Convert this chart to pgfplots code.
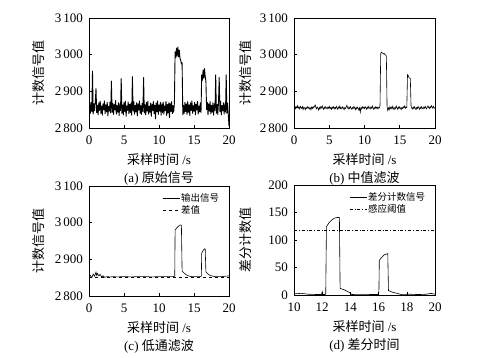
\documentclass[border=0pt]{standalone}
\usepackage{fontspec}
\setmainfont{Liberation Serif}
\newfontfamily\cjk{Noto Sans CJK SC}
\usepackage{pgfplots}
\pgfplotsset{compat=1.18}
\pgfplotsset{
  myax/.style={
    scale only axis,
    width=140pt, height=110pt,
    axis line style={line width=0.8pt},
    tick align=inside, tick pos=left,
    major tick length=3pt,
    tick style={line width=0.6pt, black},
    tick label style={font=\fontsize{13}{15}\selectfont},
    /pgf/number format/assume math mode=true,
    /pgf/number format/1000 sep={\,},
    xticklabel style={yshift=-4pt},
    yticklabel style={xshift=-2.5pt},
    label style={font=\fontsize{13}{15}\selectfont},
    clip mode=individual,
    no markers,
    xlabel={{\cjk 采样时间} /s},
    xlabel style={at={(axis description cs:0.5,-0.29)}, anchor=center},
    ylabel style={at={(axis description cs:-0.357,0.5)}, anchor=center},
    legend style={draw=none, fill=none, at={(axis description cs:0.96,0.96)}, anchor=north east,
      font=\fontsize{9.5}{11}\selectfont, nodes={inner sep=1pt}},
    legend cell align=left,
  },
  sigax/.style={
    xmin=0, xmax=20, ymin=2800, ymax=3100,
    xtick={0,5,10,15,20}, ytick={2800,2900,3000,3100},
    ylabel={\cjk 计数信号值},
  },
  ln/.style={black, line width=0.6pt, mark=none}
}
\begin{document}
\begin{tikzpicture}
\useasboundingbox (0,0) rectangle (478pt,-357pt);
% (a)
\begin{axis}[myax, sigax, at={(89pt,-128pt)}, anchor=south west]
\addplot[ln, line width=0.9pt, line join=round] coordinates {
(0.0,2852)(0.1,2868)(0.2,2840)(0.3,2870)(0.4,2845)(0.5,2955)(0.6,2838)(0.7,2866)(0.8,2847)(0.9,2872)
(1.0,2908)(1.1,2842)(1.2,2862)(1.3,2836)(1.4,2869)(1.5,2848)(1.6,2873)(1.7,2840)(1.8,2860)(1.9,2835)
(2.0,2866)(2.1,2850)(2.2,2874)(2.3,2839)(2.4,2863)(2.5,2844)(2.6,2870)(2.7,2833)(2.8,2859)(2.9,2846)
(3.0,2871)(3.1,2841)(3.2,2928)(3.3,2843)(3.4,2867)(3.5,2837)(3.6,2864)(3.7,2849)(3.8,2875)(3.9,2838)
(4.0,2861)(4.1,2843)(4.2,2869)(4.3,2834)(4.4,2866)(4.5,2847)(4.6,2935)(4.7,2840)(4.8,2863)(4.9,2836)
(5.0,2870)(5.1,2845)(5.2,2873)(5.3,2832)(5.4,2860)(5.5,2848)(5.6,2871)(5.7,2839)(5.8,2865)(5.9,2842)
(6.0,2868)(6.1,2835)(6.2,2940)(6.3,2846)(6.4,2872)(6.5,2838)(6.6,2862)(6.7,2844)(6.8,2869)(6.9,2833)
(7.0,2866)(7.1,2849)(7.2,2874)(7.3,2840)(7.4,2861)(7.5,2837)(7.6,2867)(7.7,2845)(7.8,2938)(7.9,2841)
(8.0,2864)(8.1,2836)(8.2,2870)(8.3,2846)(8.4,2873)(8.5,2838)(8.6,2859)(8.7,2843)(8.8,2868)(8.9,2832)
(9.0,2865)(9.1,2848)(9.2,2872)(9.3,2839)(9.4,2862)(9.5,2825)(9.6,2869)(9.7,2844)(9.8,2874)(9.9,2837)
(10.0,2863)(10.1,2846)(10.2,2870)(10.3,2835)(10.4,2866)(10.5,2842)(10.6,2871)(10.7,2838)(10.8,2860)(10.9,2847)
(11.0,2873)(11.1,2834)(11.2,2864)(11.3,2841)(11.4,2869)(11.5,2828)(11.6,2867)(11.7,2845)(11.8,2872)(11.9,2839)
(12.0,2861)(12.1,2843)(12.2,2868)(12.3,3008)(12.4,2992)(12.5,3018)(12.6,2996)(12.7,3021)(12.8,2994)(12.9,3012)
(13.0,2990)(13.1,2985)(13.2,2975)(13.3,2978)(13.4,2836)(13.5,2862)(13.6,2840)(13.7,2870)(13.8,2845)(13.9,2866)
(14.0,2837)(14.1,2872)(14.2,2843)(14.3,2863)(14.4,2834)(14.5,2869)(14.6,2848)(14.7,2874)(14.8,2840)(14.9,2861)
(15.0,2845)(15.1,2870)(15.2,2836)(15.3,2865)(15.4,2849)(15.5,2873)(15.6,2838)(15.7,2860)(15.8,2844)(15.9,2868)
(16.0,2842)(16.1,2945)(16.2,2930)(16.3,2958)(16.4,2936)(16.5,2962)(16.6,2940)(16.7,2928)(16.8,2850)(16.9,2870)
(17.0,2836)(17.1,2866)(17.2,2846)(17.3,2872)(17.4,2839)(17.5,2862)(17.6,2843)(17.7,2869)(17.8,2835)(17.9,2866)
(18.0,2848)(18.1,2945)(18.2,2840)(18.3,2864)(18.4,2837)(18.5,2870)(18.6,2938)(18.7,2845)(18.8,2873)(18.9,2836)
(19.0,2861)(19.1,2847)(19.2,2869)(19.3,2838)(19.4,2866)(19.5,2843)(19.6,2945)(19.7,2840)(19.8,2868)(19.9,2836)
(20.0,2805)};
\node[font=\fontsize{13}{15}\selectfont] at (axis description cs:0.5,-0.455) {(a) {\cjk 原始信号}};
\end{axis}
% (b)
\begin{axis}[myax, sigax, width=141pt, at={(294pt,-128pt)}, anchor=south west,
  ylabel style={at={(axis description cs:-0.34,0.5)}}]
\addplot[ln] coordinates {
(0.0,2856)(0.1,2860)(0.2,2853)(0.3,2858)(0.4,2855)(0.5,2861)(0.6,2854)(0.7,2857)(0.8,2852)(0.9,2859)
(1.0,2856)(1.1,2853)(1.2,2858)(1.3,2851)(1.4,2857)(1.5,2855)(1.6,2850)(1.7,2856)(1.8,2853)(1.9,2858)
(2.0,2854)(2.1,2857)(2.2,2852)(2.3,2855)(2.4,2850)(2.5,2857)(2.6,2853)(2.7,2858)(2.8,2855)(2.9,2859)
(3.0,2863)(3.1,2856)(3.2,2852)(3.3,2857)(3.4,2854)(3.5,2849)(3.6,2856)(3.7,2852)(3.8,2858)(3.9,2855)
(4.0,2860)(4.1,2854)(4.2,2851)(4.3,2857)(4.4,2853)(4.5,2858)(4.6,2855)(4.7,2852)(4.8,2857)(4.9,2854)
(5.0,2859)(5.1,2853)(5.2,2856)(5.3,2851)(5.4,2857)(5.5,2854)(5.6,2858)(5.7,2852)(5.8,2856)(5.9,2853)
(6.0,2859)(6.1,2855)(6.2,2851)(6.3,2857)(6.4,2854)(6.5,2860)(6.6,2853)(6.7,2856)(6.8,2852)(6.9,2858)
(7.0,2855)(7.1,2850)(7.2,2856)(7.3,2853)(7.4,2857)(7.5,2862)(7.6,2855)(7.7,2852)(7.8,2857)(7.9,2853)
(8.0,2858)(8.1,2854)(8.2,2851)(8.3,2856)(8.4,2853)(8.5,2859)(8.6,2855)(8.7,2850)(8.8,2856)(8.9,2852)
(9.0,2857)(9.1,2854)(9.2,2849)(9.3,2855)(9.4,2843)(9.5,2856)(9.6,2852)(9.7,2858)(9.8,2854)(9.9,2857)
(10.0,2853)(10.1,2858)(10.2,2855)(10.3,2851)(10.4,2857)(10.5,2853)(10.6,2859)(10.7,2855)(10.8,2852)(10.9,2857)
(11.0,2854)(11.1,2860)(11.2,2855)(11.3,2851)(11.4,2856)(11.5,2853)(11.6,2858)(11.7,2854)(11.8,2857)(11.9,2852)
(12.0,2856)(12.1,2855)(12.2,2860)(12.3,3003)(12.4,3007)(12.5,3005)(12.6,3004)(12.7,3002)(12.8,3003)(12.9,3000)
(13.0,2999)(13.1,2996)(13.2,2858)(13.3,2848)(13.4,2855)(13.5,2850)(13.6,2858)(13.7,2853)(13.8,2857)(13.9,2852)
(14.0,2859)(14.1,2854)(14.2,2850)(14.3,2856)(14.4,2853)(14.5,2860)(14.6,2855)(14.7,2851)(14.8,2857)(14.9,2853)
(15.0,2858)(15.1,2854)(15.2,2850)(15.3,2856)(15.4,2853)(15.5,2858)(15.6,2855)(15.7,2860)(15.8,2854)(15.9,2857)
(16.0,2856)(16.1,2945)(16.2,2943)(16.3,2938)(16.4,2936)(16.5,2935)(16.6,2860)(16.7,2855)(16.8,2852)(16.9,2857)
(17.0,2853)(17.1,2858)(17.2,2854)(17.3,2850)(17.4,2856)(17.5,2853)(17.6,2859)(17.7,2855)(17.8,2851)(17.9,2857)
(18.0,2853)(18.1,2858)(18.2,2854)(18.3,2852)(18.4,2857)(18.5,2854)(18.6,2859)(18.7,2855)(18.8,2852)(18.9,2857)
(19.0,2860)(19.1,2856)(19.2,2853)(19.3,2858)(19.4,2855)(19.5,2861)(19.6,2857)(19.7,2854)(19.8,2859)(19.9,2855)
(20.0,2853)};
\node[font=\fontsize{13}{15}\selectfont] at (axis description cs:0.5,-0.455) {(b) {\cjk 中值滤波}};
\end{axis}
% (c)
\begin{axis}[myax, sigax, at={(89pt,-296pt)}, anchor=south west]
\addplot[ln] coordinates {
(0,2852)(0.2,2856)(0.4,2850)(0.6,2860)(0.8,2854)(1.0,2865)(1.1,2856)(1.2,2862)(1.4,2855)(1.6,2859)
(1.8,2852)(2.0,2855)(2.2,2851)(2.6,2853)(3.0,2852)(3.5,2853)(4.0,2852)(5.0,2853)(6.0,2852)(7.0,2853)
(8.0,2853)(9.0,2852)(10.0,2853)(11.0,2853)(12.0,2853)(12.25,2854)(12.3,2980)(12.5,2985)(12.7,2989)
(12.9,2992)(13.1,2994)(13.2,2993)(13.3,2868)(13.6,2862)(13.9,2858)(14.2,2855)(14.6,2853)(15.0,2853)
(16.0,2853)(16.05,2855)(16.1,2917)(16.3,2924)(16.5,2929)(16.6,2928)(16.7,2866)(17.0,2860)(17.3,2856)
(17.7,2854)(18.0,2853)(19.0,2853)(19.5,2854)(20.0,2855)};
\addlegendentry{\cjk 输出信号}
\addplot[ln, dashed] coordinates {(0,2852)(20,2852)};
\addlegendentry{\cjk 差值}
\node[font=\fontsize{13}{15}\selectfont] at (axis description cs:0.5,-0.455) {(c) {\cjk 低通滤波}};
\end{axis}
% (d)
\begin{axis}[myax, width=141pt, at={(294pt,-295pt)}, anchor=south west,
  xmin=10, xmax=20, ymin=0, ymax=200,
  xtick={10,12,14,16,18,20}, ytick={0,50,100,150,200},
  ylabel={\cjk 差分计数值},
  ylabel style={at={(axis description cs:-0.34,0.5)}}]
\addplot[ln] coordinates {
(10,2)(10.5,3)(11,1.5)(11.5,1)(11.95,1)(12.0,6)(12.05,1)(12.2,1)(12.25,2)(12.3,124)(12.5,132)
(12.7,137)(12.9,140)(13.1,141)(13.22,141)(13.27,12)(13.6,9)(13.9,5)(14.1,1)(14.5,0.5)(15,0.5)
(15.5,1)(16.0,1)(16.02,2)(16.05,63)(16.2,68)(16.4,73)(16.6,75)(16.65,75)(16.7,8)(17,5)(17.3,3)
(17.6,1)(18.2,1.5)(18.6,1)(19,1)(19.4,1.5)(19.7,3)(19.9,2)(20,1.5)};
\addlegendentry{\cjk 差分计数信号}
\addplot[ln, dash dot] coordinates {(10,118)(20,118)};
\addlegendentry{\cjk 感应阈值}
\node[font=\fontsize{13}{15}\selectfont] at (axis description cs:0.5,-0.455) {(d) {\cjk 差分时间}};
\end{axis}
\end{tikzpicture}
\end{document}
